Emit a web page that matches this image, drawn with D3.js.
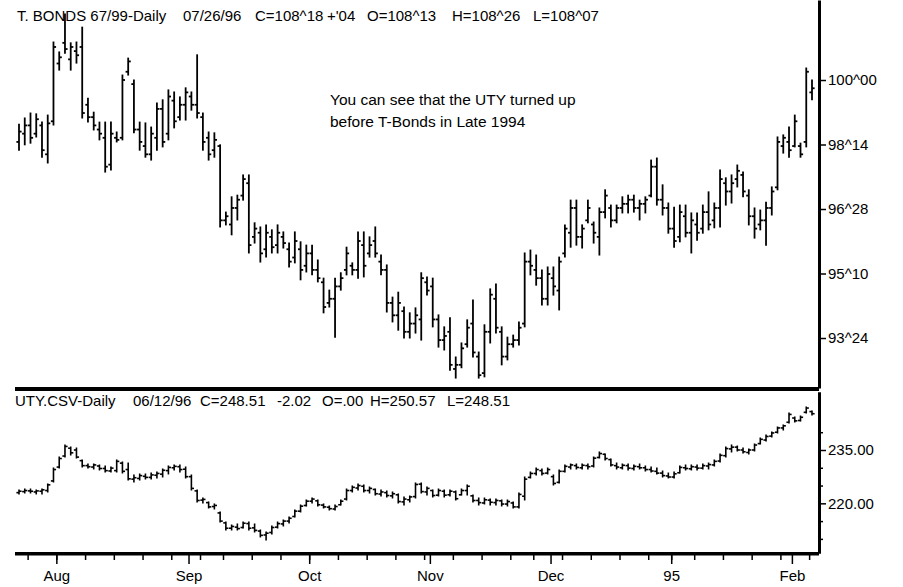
<!DOCTYPE html>
<html><head><meta charset="utf-8">
<script src="https://cdn.jsdelivr.net/npm/d3@7"></script>
<style>
body{margin:0;background:#fff}
svg text{font-family:"Liberation Sans",Arial,sans-serif;fill:#000}
</style>
</head><body>
<svg id="c" width="903" height="587"></svg>
<script>
// ---------- T-Bond daily OHLC (Jul 21 1994 .. Feb 6 1995) ----------
const tbHigh = [
98.93,99.08,99.20,99.18,98.98,99.15,100.92,100.68,101.60,100.90,
100.92,101.28,99.56,99.22,98.98,98.98,98.98,98.74,100.12,100.53,
100.00,98.98,98.96,98.86,99.44,99.52,99.76,99.71,99.59,99.81,
99.71,100.61,99.20,98.74,98.72,98.43,96.80,97.17,97.21,97.70,
97.70,96.54,96.44,96.49,96.37,96.49,96.32,96.05,96.32,96.08,
96.00,96.00,95.64,95.20,94.91,95.20,95.33,95.95,95.57,96.32,
96.32,96.20,96.44,95.76,95.52,94.74,94.86,94.50,94.36,94.48,
95.33,95.23,95.20,94.31,94.02,94.24,93.29,93.63,94.19,94.67,
93.41,94.07,94.94,95.06,94.02,93.77,93.82,94.14,95.81,95.88,
95.76,95.40,95.47,95.47,95.71,96.49,97.09,97.09,96.49,97.09,
96.56,96.90,97.34,96.97,96.97,97.17,97.21,97.21,97.09,97.17,
98.06,98.11,97.46,97.02,96.92,96.97,96.97,96.78,96.78,96.97,
97.29,97.02,97.82,97.63,97.70,97.94,97.77,97.34,96.90,96.85,
97.04,97.41,98.62,98.67,98.86,99.15,98.47,100.29,100.00];
const tbLow = [
98.30,98.43,98.47,98.62,98.13,97.99,98.91,100.24,100.65,100.24,
100.41,99.08,98.98,98.79,98.55,97.77,97.82,98.50,98.55,100.12,
98.72,98.30,98.13,98.06,98.30,98.38,98.55,98.84,99.03,99.03,
99.27,99.08,98.30,98.06,98.13,96.44,96.49,96.25,96.61,97.09,
95.81,96.05,95.59,95.71,95.81,95.81,95.93,95.47,95.57,95.16,
95.35,95.28,95.11,94.36,94.50,93.77,94.91,95.28,95.28,95.20,
95.23,95.71,95.71,95.28,94.38,94.14,93.94,93.75,93.75,93.87,
93.70,94.79,94.02,93.53,93.46,92.97,92.78,93.03,93.53,93.29,
92.78,92.81,93.63,93.87,93.10,93.22,93.53,93.58,94.02,95.28,
95.03,94.55,94.55,94.79,94.43,95.71,95.95,96.00,95.93,96.54,
96.05,95.76,96.66,96.44,96.54,96.78,96.78,96.80,96.61,96.78,
97.17,96.97,96.73,96.29,95.95,96.08,96.20,95.81,96.12,96.29,
96.37,96.42,96.44,96.97,97.02,97.41,97.17,96.49,96.17,96.37,
96.00,96.73,97.34,98.23,98.13,98.38,98.13,98.38,99.52];
const tbOpen = [
98.50,98.70,98.90,98.70,98.90,98.20,99.00,100.40,100.90,100.50,
100.70,100.80,99.40,99.10,98.80,98.60,97.95,98.60,98.60,100.20,
99.90,98.80,98.40,98.20,98.60,99.30,98.70,99.50,99.10,99.40,
99.60,99.40,99.10,98.60,98.30,98.40,96.60,96.50,96.90,97.20,
97.50,96.20,96.30,95.90,96.20,96.00,96.20,95.90,95.70,95.90,
95.50,95.80,95.40,95.10,94.60,94.70,95.00,95.40,95.50,95.40,
96.00,95.80,96.10,95.60,95.40,94.60,94.30,94.40,93.90,94.10,
94.20,95.10,95.00,94.20,93.70,93.90,93.00,93.10,93.60,94.10,
93.30,92.90,93.90,94.70,93.90,93.30,93.60,93.70,94.10,95.60,
95.40,95.20,94.70,95.20,94.90,95.80,96.30,96.90,96.20,96.60,
96.50,96.20,96.80,96.90,96.60,96.90,97.00,97.10,96.90,97.00,
97.20,97.90,97.10,96.90,96.40,96.20,96.70,96.30,96.50,96.40,
96.80,96.60,96.90,97.50,97.30,97.60,97.70,97.20,96.70,96.50,
96.60,96.90,97.40,98.40,98.50,98.40,98.40,98.50,99.70];
const tbClose = [
98.75,98.90,98.60,99.05,98.30,98.95,100.80,100.55,100.75,100.80,
100.60,99.20,99.10,98.90,98.70,97.90,98.70,98.55,100.00,100.45,
98.80,98.50,98.20,98.70,99.30,98.50,99.60,99.00,99.40,99.70,
99.40,99.20,98.50,98.20,98.55,96.60,96.70,96.90,97.10,97.60,
96.00,96.40,95.80,96.30,95.95,96.30,96.05,95.60,96.10,95.40,
95.80,95.40,95.20,94.50,94.70,95.00,95.20,95.80,95.40,96.10,
95.50,96.00,95.80,95.40,94.60,94.30,94.60,93.90,94.10,94.30,
95.20,94.90,94.20,93.70,93.80,93.10,93.10,93.50,94.00,93.40,
92.85,93.90,94.80,94.00,93.30,93.60,93.70,94.00,95.60,95.50,
95.20,94.70,95.30,95.00,95.60,96.40,96.90,96.20,96.40,96.90,
96.30,96.80,97.20,96.60,96.90,97.00,97.10,96.90,97.00,97.10,
97.90,97.10,96.90,96.40,96.10,96.80,96.30,96.60,96.30,96.80,
96.50,96.90,97.60,97.30,97.50,97.80,97.30,96.70,96.40,96.60,
96.90,97.30,98.50,98.60,98.30,99.00,98.20,100.20,99.80];

// ---------- UTY daily OHLC ----------
const utyHigh = [
223.75,224.03,224.03,223.75,224.03,225.44,229.94,233.03,236.41,235.84,
235.56,232.19,231.06,231.06,230.78,230.50,230.22,232.19,231.63,231.34,
227.97,228.25,228.25,228.53,228.81,229.66,230.50,230.78,230.78,230.22,
227.97,223.75,221.50,220.38,219.82,217.57,214.75,213.91,214.19,214.75,
214.75,214.19,212.50,211.94,213.63,214.75,215.31,216.16,218.13,219.53,
220.94,221.50,220.94,219.82,219.25,219.53,220.94,224.03,224.88,225.44,
225.16,224.59,224.03,223.75,223.47,223.19,222.63,221.78,222.06,225.72,
225.72,224.59,223.75,224.03,223.75,223.75,223.47,224.03,225.16,222.34,
221.50,221.50,221.22,221.22,220.94,220.94,220.38,222.91,227.41,228.81,
229.94,229.66,229.94,227.97,229.38,230.78,231.06,231.06,231.06,231.06,
233.03,234.44,233.88,232.47,231.34,231.06,231.06,230.78,231.06,230.50,
230.22,229.94,229.09,228.53,228.81,230.50,230.78,230.78,230.78,231.06,
231.34,232.19,233.88,235.84,236.41,236.12,235.56,235.28,236.69,238.37,
239.22,240.06,241.47,242.03,245.40,244.28,244.56,247.09,245.97];
const utyLow = [
222.63,222.91,222.91,222.63,222.63,223.19,226.00,229.94,233.03,233.59,
232.75,230.22,229.94,229.66,229.38,228.81,228.81,228.81,228.53,226.56,
226.00,226.56,226.84,226.84,227.13,227.41,228.25,229.38,228.81,227.13,
223.75,220.38,220.10,218.69,218.41,214.75,212.50,212.50,212.50,213.06,
212.50,211.94,210.54,209.69,211.38,213.06,213.63,214.47,216.16,217.57,
219.25,220.10,219.25,218.69,218.13,218.13,219.53,220.94,223.19,223.75,
223.19,222.91,222.34,222.06,221.78,221.50,220.10,219.53,220.38,221.50,
222.91,222.34,221.78,222.06,221.78,222.06,220.94,222.34,222.34,220.38,
219.53,219.82,219.53,219.53,219.25,219.25,218.69,218.69,220.94,227.13,
227.97,227.97,228.25,225.16,225.72,228.81,229.66,229.66,229.66,229.66,
230.22,232.75,232.19,230.50,229.66,229.66,229.38,229.38,229.66,229.09,
228.81,228.25,227.41,227.13,227.13,228.53,229.38,229.38,229.38,229.66,
229.66,230.50,231.63,233.03,234.44,234.72,234.16,233.88,234.72,236.69,
237.53,238.66,239.78,240.62,242.59,242.87,243.15,245.40,244.84];
const utyOpen = [
223.0,223.3,223.5,223.2,223.4,223.6,226.3,230.2,233.3,235.5,
235.0,232.0,230.6,230.2,230.5,229.8,229.1,229.2,231.3,229.5,
226.8,227.0,227.6,227.3,227.9,228.2,229.2,230.0,230.3,229.6,
227.5,223.5,220.9,220.2,219.1,217.3,214.5,213.0,213.3,213.2,
214.3,213.1,212.2,211.1,211.8,213.3,214.2,215.0,216.3,217.8,
219.4,220.6,220.7,219.5,218.9,218.4,219.6,221.2,223.6,224.3,
224.8,223.6,223.9,222.6,223.0,222.1,222.4,220.4,221.0,221.9,
225.4,223.2,223.6,222.3,223.4,222.4,223.2,222.4,223.6,222.1,
220.8,220.1,220.9,220.2,220.7,219.8,220.1,219.0,222.0,227.3,
228.4,229.2,228.5,227.5,225.9,229.0,230.2,230.6,230.0,230.6,
230.5,232.9,233.8,232.3,230.6,230.0,230.6,229.8,230.3,230.0,
229.5,229.0,228.5,227.7,227.4,228.6,230.0,229.7,230.2,229.9,
230.5,230.8,231.9,233.4,235.3,235.8,235.0,234.3,235.0,236.8,
237.8,238.9,240.0,241.2,242.8,244.0,243.3,245.6,245.8];
const utyClose = [
223.4,223.6,223.4,223.5,223.8,225.2,229.5,232.6,236.0,234.2,
233.0,230.6,230.3,230.8,229.8,229.2,229.9,231.8,229.0,226.9,
227.2,227.8,227.3,228.0,228.4,229.3,230.1,230.4,229.5,227.5,
224.2,220.8,221.1,219.0,219.4,215.0,213.0,213.5,212.9,214.4,
213.0,212.4,211.0,211.6,213.2,214.3,215.0,215.8,217.8,219.2,
220.6,221.2,219.6,219.0,218.5,219.1,220.6,223.6,224.5,225.0,
223.6,224.2,222.7,223.2,222.2,222.7,220.5,221.2,221.8,225.3,
223.3,224.2,222.2,223.6,222.3,223.4,221.3,223.6,224.8,220.8,
220.2,221.0,220.3,220.8,219.8,220.5,219.0,222.5,226.8,228.4,
229.5,228.4,229.5,225.6,229.0,230.4,230.8,230.1,230.7,230.3,
232.7,234.0,232.6,230.8,230.2,230.7,229.9,230.4,230.0,229.5,
229.1,228.5,227.8,227.4,228.3,230.1,229.8,230.3,229.9,230.6,
230.9,231.8,233.5,235.4,235.8,235.0,234.5,235.0,236.4,238.0,
238.8,239.8,241.2,241.8,245.0,243.2,244.2,246.8,245.2];

// ---------- axis ticks / labels ----------
const tbTickValues = [100, 98.4375, 96.875, 95.3125, 93.75];
const tbTickLabels = ["100^00", "98^14", "96^28", "95^10", "93^24"];
const utyTickValues = [235, 220];
const utyTickLabels = ["235.00", "220.00"];
const utyMinorTicks = [240, 230, 225, 215, 210];
const monthIdx = [7, 30, 51, 72, 93, 114, 135];
const monthLabels = ["Aug", "Sep", "Oct", "Nov", "Dec", "95", "Feb"];
const weekIdx = [2,7,12,17,22,27,32,36,41,46,51,56,61,66,71,76,81,86,90,95,100,105,110,114,118,123,128,133,138];

const tbTitle = [
  ["T. BONDS 67/99-Daily", 17], ["07/26/96", 183], ["C=108^18", 255], ["+'04", 327],
  ["O=108^13", 367], ["H=108^26", 452], ["L=108^07", 533]];
const utyTitle = [
  ["UTY.CSV-Daily", 15], ["06/12/96", 133], ["C=248.51", 200], ["-2.02", 277],
  ["O=.00", 322], ["H=250.57", 370], ["L=248.51", 447]];
const note = ["You can see that the UTY turned up", "before T-Bonds in Late 1994"];

// ---------- drawing ----------
const svg = d3.select("#c");
const n = tbHigh.length;
const x = d3.scaleLinear().domain([0, n - 1]).range([19, 812]);
const yTop = d3.scaleLinear().domain([92.539, 101.938]).range([388, 0]);
const yBot = d3.scaleLinear().domain([206.03, 251.31]).range([553, 392]);
const axisX = 819;

function drawOHLC(H, L, O, C, y, sw) {
  const g = svg.append("g").attr("stroke", "#000").attr("stroke-width", sw);
  const idx = d3.range(H.length);
  g.append("g").selectAll("line").data(idx).join("line")
    .attr("x1", i => x(i)).attr("x2", i => x(i))
    .attr("y1", i => y(H[i]) - 0.5).attr("y2", i => y(L[i]) + 0.5);
  g.append("g").selectAll("line").data(idx).join("line")
    .attr("x1", i => x(i) - 2.6).attr("x2", i => x(i))
    .attr("y1", i => y(O[i])).attr("y2", i => y(O[i]));
  g.append("g").selectAll("line").data(idx).join("line")
    .attr("x1", i => x(i)).attr("x2", i => x(i) + 2.6)
    .attr("y1", i => y(C[i])).attr("y2", i => y(C[i]));
}
drawOHLC(tbHigh, tbLow, tbOpen, tbClose, yTop, 1.8);
drawOHLC(utyHigh, utyLow, utyOpen, utyClose, yBot, 1.6);

// titles
svg.append("g").selectAll("text").data(tbTitle).join("text")
  .attr("x", d => d[1]).attr("y", 21).attr("font-size", 15).text(d => d[0]);
svg.append("g").selectAll("text").data(utyTitle).join("text")
  .attr("x", d => d[1]).attr("y", 406).attr("font-size", 15).text(d => d[0]);
svg.append("g").selectAll("text").data(note).join("text")
  .attr("x", 330).attr("y", (d, i) => 105 + i * 22).attr("font-size", 15.5).text(d => d);

// panel separator & bottom axis line
svg.append("rect").attr("x", 15).attr("y", 387).attr("width", axisX - 15).attr("height", 4).attr("fill", "#000");
svg.append("rect").attr("x", 15).attr("y", 552).attr("width", axisX - 15).attr("height", 3.5).attr("fill", "#000");

// right axes
const aTop = d3.axisRight(yTop).tickValues(tbTickValues)
  .tickFormat((d, i) => tbTickLabels[i]).tickSize(7).tickPadding(2).tickSizeOuter(0);
const gTop = svg.append("g").attr("transform", `translate(${axisX},0)`).call(aTop);
const aBot = d3.axisRight(yBot).tickValues(utyTickValues)
  .tickFormat((d, i) => utyTickLabels[i]).tickSize(7).tickPadding(2).tickSizeOuter(0);
const gBot = svg.append("g").attr("transform", `translate(${axisX},0)`).call(aBot);
const aBotMinor = d3.axisRight(yBot).tickValues(utyMinorTicks).tickFormat("").tickSize(4).tickSizeOuter(0);
const gBotMinor = svg.append("g").attr("transform", `translate(${axisX},0)`).call(aBotMinor);
[gTop, gBot, gBotMinor].forEach(g => {
  g.select(".domain").attr("stroke", "#000").attr("stroke-width", 3);
  g.selectAll(".tick line").attr("stroke", "#000").attr("stroke-width", 1.5);
  g.selectAll(".tick text").attr("font-size", 15).attr("font-family", "Liberation Sans, Arial, sans-serif");
});

// bottom time axis
const aWeek = d3.axisBottom(x).tickValues(weekIdx.map(i => i - 0.5)).tickFormat("").tickSize(5).tickSizeOuter(0);
const gWeek = svg.append("g").attr("transform", "translate(0,555)").call(aWeek);
const aMonth = d3.axisBottom(x).tickValues(monthIdx.map(i => i - 0.5))
  .tickFormat((d, i) => monthLabels[i]).tickSize(9).tickPadding(6).tickSizeOuter(0);
const gMonth = svg.append("g").attr("transform", "translate(0,555)").call(aMonth);
[gWeek, gMonth].forEach(g => {
  g.select(".domain").remove();
  g.selectAll(".tick line").attr("stroke", "#000").attr("stroke-width", 1.5);
  g.selectAll(".tick text").attr("font-size", 15).attr("font-family", "Liberation Sans, Arial, sans-serif");
});
</script>
</body></html>
